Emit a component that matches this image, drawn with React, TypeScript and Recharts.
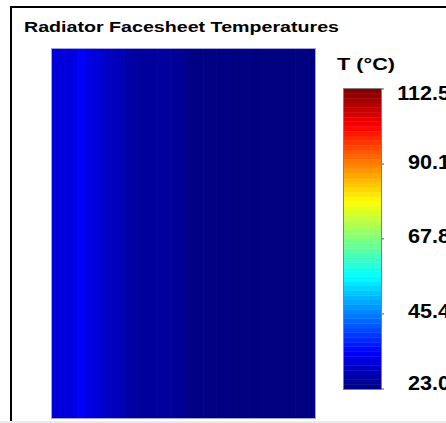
import { BarChart, Bar, XAxis, YAxis, Cell } from 'recharts'

// Facesheet temperature per column (left to right), °C
const columnTemps = [
  30.6, 31.0, 31.3, 32.0, 34.0, 31.8, 31.0, 30.4, 28.8, 28.4,
  28.0, 26.6, 26.0, 25.8, 25.7, 25.6, 25.5, 25.4, 25.3, 25.0,
  23.8, 23.5, 23.3, 23.3, 23.2, 23.2, 23.2, 23.1, 23.1, 23.1,
  23.1, 23.0, 23.0, 23.0, 23.0, 23.0, 23.0, 23.0, 23.0, 23.0,
]

const T_MIN = 23.0
const T_MAX = 112.5
const cbarTicks = [23.0, 45.4, 67.8, 90.1, 112.5]
const CBAR_BANDS = 64

const FONT = '"Liberation Sans", Arial, sans-serif'

const clamp = (v: number) => Math.max(0, Math.min(1, v))

// classic jet colormap
function jet(t: number) {
  const r = clamp(1.5 - Math.abs(4 * t - 3))
  const g = clamp(1.5 - Math.abs(4 * t - 2))
  const b = clamp(1.5 - Math.abs(4 * t - 1))
  const h = (v: number) => Math.round(v * 255).toString(16).padStart(2, '0')
  return `#${h(r)}${h(g)}${h(b)}`
}

const tempColor = (T: number) => jet((T - T_MIN) / (T_MAX - T_MIN))

const heatData = columnTemps.map((temp, i) => ({ col: i, temp, h: 1 }))

const bandStep = (T_MAX - T_MIN) / CBAR_BANDS
const bandKeys = Array.from({ length: CBAR_BANDS }, (_, i) => `b${i}`)
const cbarRow: Record<string, number | string> = { name: 'T', base: T_MIN }
bandKeys.forEach(k => { cbarRow[k] = bandStep })
const cbarData = [cbarRow]

// labels sit right-aligned against the page edge
const CbarTick = ({ y, payload }: any) => {
  const v = Number(payload.value)
  const dy = v === T_MAX ? 4 : v === T_MIN ? -6 : -2.5
  return (
    <g transform={`translate(106, ${y + dy + 7}) scale(1.08, 1)`}>
      <text textAnchor="end" fill="#000" fontFamily={FONT} fontWeight="bold" fontSize={20}>
        {v.toFixed(1)}
      </text>
    </g>
  )
}

export default function App() {
  return (
    <div style={{ position: 'fixed', left: 0, top: 0, width: 446, height: 423, overflow: 'hidden', background: '#fff' }}>
      <div style={{ position: 'absolute', left: 10, top: 6, width: 460, height: 430, border: '2px solid #000' }} />

      <div style={{ position: 'absolute', left: 52, top: 49 }}>
        <BarChart width={263} height={369} data={heatData} margin={{ top: 0, right: 0, bottom: 0, left: 0 }}
          barCategoryGap={0} barGap={0}>
          <XAxis dataKey="col" hide />
          <YAxis hide domain={[0, 1]} />
          <Bar dataKey="h" isAnimationActive={false}>
            {heatData.map((d, i) => (
              <Cell key={i} fill={tempColor(d.temp)} stroke={tempColor(d.temp)} strokeWidth={0.6} />
            ))}
          </Bar>
        </BarChart>
        <div style={{ position: 'absolute', left: -1, top: -1, width: 263, height: 369, border: '1px solid #a4a4d8' }} />
      </div>

      <div style={{ position: 'absolute', left: 344, top: 80 }}>
        <BarChart width={110} height={320} data={cbarData} margin={{ top: 9, right: 0, bottom: 11, left: 0 }}
          barCategoryGap={0}>
          <XAxis dataKey="name" hide />
          <YAxis orientation="right" width={73} domain={[T_MIN, T_MAX]} ticks={cbarTicks}
            allowDataOverflow axisLine={false} tickSize={3}
            tickLine={{ stroke: '#555' }} tick={<CbarTick />} />
          <Bar dataKey="base" stackId="cb" fill="none" isAnimationActive={false} />
          {bandKeys.map((k, i) => (
            <Bar key={k} dataKey={k} stackId="cb" isAnimationActive={false}
              fill={jet((i + 0.5) / CBAR_BANDS)} stroke={jet((i + 0.5) / CBAR_BANDS)} strokeWidth={0.5} />
          ))}
        </BarChart>
        <div style={{ position: 'absolute', left: -1, top: 8, width: 37, height: 300, border: '1px solid #808080' }} />
      </div>

      <svg width={446} height={423} style={{ position: 'absolute', left: 0, top: 0, pointerEvents: 'none' }}>
        <text x={24} y={31.5} fontFamily={FONT} fontWeight="bold" fontSize={15.5}
          textLength={315} lengthAdjust="spacingAndGlyphs" fill="#000">
          Radiator Facesheet Temperatures
        </text>
        <text x={337} y={69.5} fontFamily={FONT} fontWeight="bold" fontSize={17}
          textLength={58} lengthAdjust="spacingAndGlyphs" fill="#000">
          T (°C)
        </text>
      </svg>

      <div style={{ position: 'absolute', left: 0, top: 421, width: 446, height: 2, background: '#ebebeb' }} />
    </div>
  )
}
